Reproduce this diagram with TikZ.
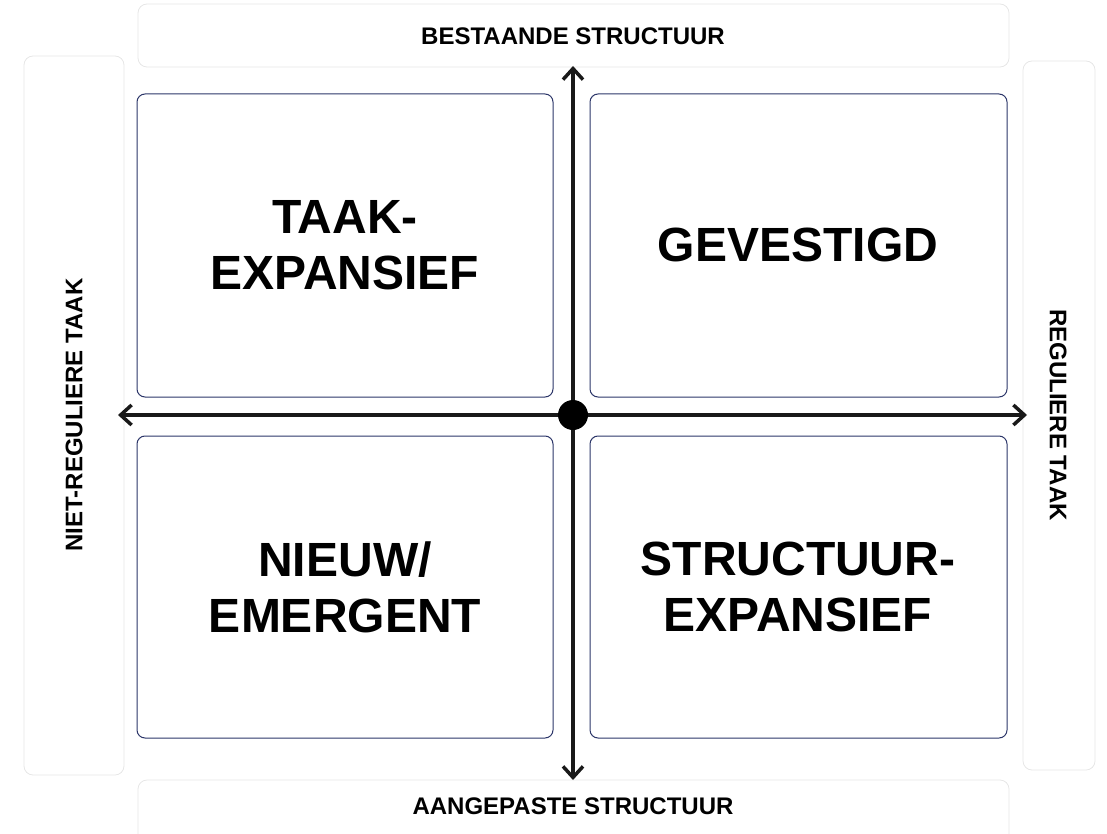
\documentclass[tikz,border=0pt]{standalone}
\usepackage{fontspec}
\setmainfont{Liberation Sans}
\usetikzlibrary{arrows.meta}
\definecolor{quadline}{HTML}{2B3568}
\definecolor{faint}{HTML}{E6E6E6}
\tikzset{
  labelbox/.style={draw=faint, line width=0.8pt, rounded corners=9pt},
  quadbox/.style={draw=quadline, line width=1pt, rounded corners=8pt},
  bigtext/.style={font=\fontsize{48}{56}\selectfont\bfseries, align=center},
  axistext/.style={font=\fontsize{24}{28}\selectfont\bfseries},
  axis/.style={line width=3.5pt, draw={rgb,255:red,25;green,25;blue,25}, {Straight Barb[length=11pt,width=20pt,line width=3.5pt]}-{Straight Barb[length=11pt,width=20pt,line width=3.5pt]}},
}
\begin{document}
\begin{tikzpicture}[x=1pt,y=-1pt]
\useasboundingbox (0,0) rectangle (1107,834);
% label boxes
\draw[labelbox] (138,4) rectangle (1009,67);
\draw[labelbox] (138,780) rectangle (1009,850);
\draw[labelbox] (24,56) rectangle (124,775);
\draw[labelbox] (1023,61) rectangle (1095,770);
% quadrants
\draw[quadbox] (137,94) rectangle (553,397);
\draw[quadbox] (590,94) rectangle (1007,397);
\draw[quadbox] (137,436) rectangle (553,738);
\draw[quadbox] (590,436) rectangle (1007,738);
% texts
\node[bigtext] (tl) at (345,245) {TAAK-\\EXPANSIEF};
\node[bigtext] (tr) at (798,245) {GEVESTIGD};
\node[bigtext] (bl) at (345,587) {NIEUW/\\EMERGENT};
\node[bigtext] (br) at (798,587) {STRUCTUUR-\\EXPANSIEF};
\node[axistext] (top) at (573,36) {BESTAANDE STRUCTUUR};
\node[axistext] (bot) at (573,806) {AANGEPASTE STRUCTUUR};
\node[axistext, rotate=90] (left) at (74,415) {NIET-REGULIERE TAAK};
\node[axistext, rotate=-90] (right) at (1058,415) {REGULIERE TAAK};
% axes
\coordinate (c) at (573,415);
\coordinate (up) at (573,66);
\coordinate (down) at (573,780);
\coordinate (lft) at (118,415);
\coordinate (rgt) at (1027,415);
\draw[axis] (lft) -- (rgt);
\draw[axis] (down) -- (up);
\fill[black] (c) circle (15);
\end{tikzpicture}
\end{document}
